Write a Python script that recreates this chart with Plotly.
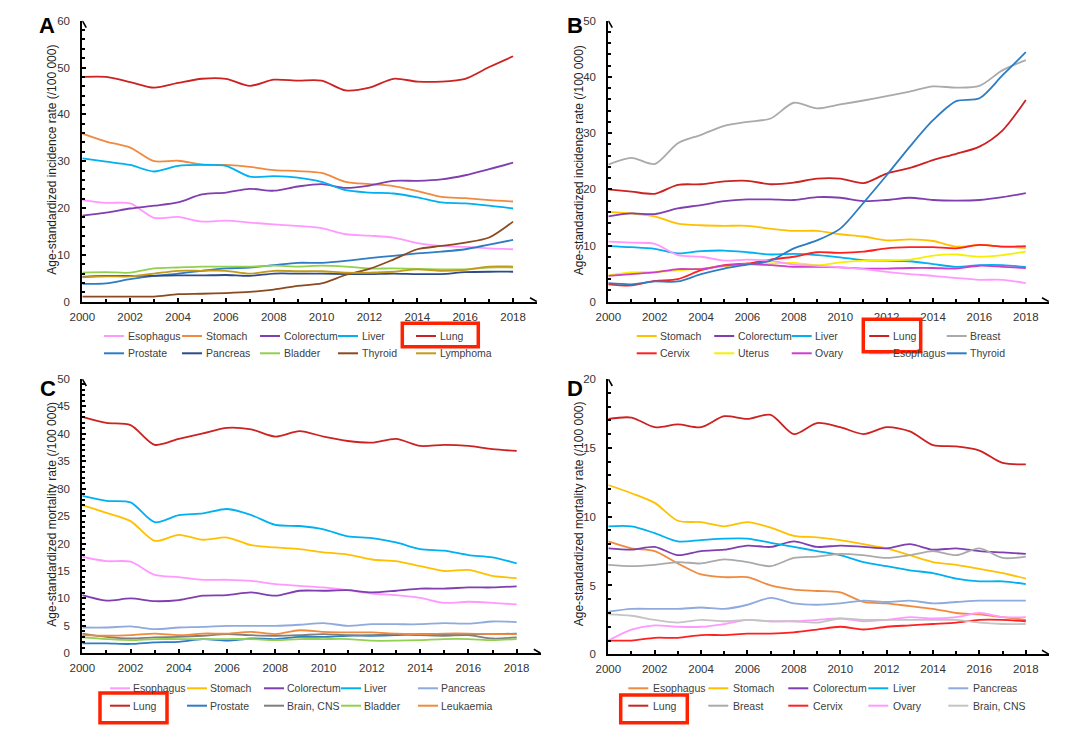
import plotly.graph_objects as go

W, H = 1084, 733
YEARS = list(range(2000, 2019))
TICK_YEARS = list(range(2000, 2019, 2))

# ---------------- Panel A : incidence ----------------
a_names = ["Esophagus", "Stomach", "Colorectum", "Liver", "Lung",
           "Prostate", "Pancreas", "Bladder", "Thyroid", "Lymphoma"]
a_esophagus = [21.7, 21.1, 21.0, 17.9, 18.1, 17.1, 17.3, 16.9, 16.5, 16.2, 15.7, 14.4, 14.1, 13.7, 12.5, 11.9, 11.7, 11.4, 11.2]
a_stomach = [35.9, 34.2, 32.9, 30.0, 30.1, 29.3, 29.2, 28.8, 28.1, 27.9, 27.5, 25.6, 25.1, 24.7, 23.6, 22.4, 22.1, 21.7, 21.4]
a_colorectum = [18.4, 19.0, 19.9, 20.5, 21.2, 22.9, 23.3, 24.1, 23.7, 24.6, 25.1, 24.3, 24.8, 25.8, 25.8, 26.1, 27.0, 28.3, 29.7]
a_liver = [30.6, 29.9, 29.2, 27.8, 29.0, 29.2, 29.0, 26.7, 26.8, 26.5, 25.6, 23.8, 23.3, 23.1, 22.3, 21.2, 21.0, 20.5, 19.9]
a_lung = [48.0, 48.0, 46.9, 45.7, 46.7, 47.6, 47.6, 46.1, 47.4, 47.2, 47.2, 45.1, 45.7, 47.6, 47.0, 47.0, 47.6, 50.1, 52.4]
a_prostate = [3.8, 3.9, 4.8, 5.5, 6.0, 6.6, 7.1, 7.3, 7.8, 8.3, 8.3, 8.7, 9.3, 9.8, 10.3, 10.7, 11.2, 12.2, 13.2]
a_pancreas = [5.3, 5.5, 5.5, 5.5, 5.6, 5.6, 5.7, 5.5, 6.0, 6.0, 6.0, 5.9, 5.9, 6.0, 5.9, 5.9, 6.3, 6.4, 6.4]
a_bladder = [6.2, 6.3, 6.2, 7.1, 7.3, 7.5, 7.5, 7.5, 7.7, 7.5, 7.7, 7.5, 7.1, 7.1, 7.0, 6.9, 6.9, 7.3, 7.3]
a_thyroid = [1.1, 1.1, 1.1, 1.1, 1.6, 1.7, 1.85, 2.1, 2.6, 3.4, 3.9, 5.7, 7.0, 9.0, 11.2, 11.9, 12.6, 13.7, 17.1]
a_lymphoma = [5.2, 5.4, 5.4, 6.0, 6.6, 6.6, 6.6, 6.0, 6.6, 6.5, 6.5, 6.2, 6.2, 6.4, 6.9, 6.6, 6.8, 7.5, 7.5]
a_colors = ["#FF99FF", "#F08A3E", "#7F3FB0", "#00B0F0", "#CC2222",
            "#2E7CC4", "#2F4A8A", "#92D050", "#8B4A1F", "#C49A1A"]

# ---------------- Panel B : incidence ----------------
b_names = ["Stomach", "Colorectum", "Liver", "Lung", "Breast",
           "Cervix", "Uterus", "Ovary", "Esophagus", "Thyroid"]
b_stomach = [16.0, 15.7, 15.2, 13.9, 13.6, 13.5, 13.5, 13.0, 12.6, 12.6, 12.0, 11.6, 10.9, 11.1, 10.8, 9.8, 10.1, 9.8, 9.6]
b_colorectum = [15.2, 15.7, 15.6, 16.6, 17.2, 17.9, 18.2, 18.2, 18.1, 18.6, 18.5, 17.9, 18.1, 18.5, 18.1, 18.0, 18.1, 18.6, 19.3]
b_liver = [9.9, 9.7, 9.4, 8.6, 9.0, 9.1, 8.8, 8.4, 8.5, 8.3, 7.9, 7.4, 7.3, 7.2, 6.7, 6.2, 6.5, 6.5, 6.2]
b_lung = [20.0, 19.6, 19.2, 20.8, 20.9, 21.4, 21.5, 20.9, 21.2, 21.9, 21.9, 21.1, 22.8, 23.8, 25.2, 26.3, 27.6, 30.5, 35.9]
b_breast = [24.4, 25.6, 24.5, 28.2, 29.7, 31.3, 32.0, 32.6, 35.4, 34.4, 35.1, 35.8, 36.6, 37.4, 38.3, 38.1, 38.4, 41.2, 43.0]
b_cervix = [3.1, 2.9, 3.7, 4.0, 5.6, 6.5, 6.8, 7.5, 8.0, 8.8, 8.7, 8.9, 9.5, 9.7, 9.7, 9.5, 10.1, 9.8, 9.9]
b_uterus = [4.7, 5.2, 5.3, 5.6, 5.9, 6.3, 6.7, 6.8, 6.9, 6.5, 7.0, 7.3, 7.4, 7.5, 8.2, 8.4, 8.0, 8.3, 8.9]
b_ovary = [4.6, 4.9, 5.2, 5.8, 5.8, 6.4, 6.7, 6.5, 6.2, 6.2, 6.1, 5.9, 5.9, 6.0, 6.0, 5.9, 6.4, 6.2, 6.0]
b_esophagus = [10.7, 10.5, 10.3, 8.3, 8.0, 7.3, 7.5, 7.3, 6.6, 6.4, 6.1, 5.8, 5.3, 4.9, 4.6, 4.2, 3.9, 3.9, 3.3]
b_thyroid = [3.3, 3.1, 3.6, 3.6, 4.9, 5.9, 6.6, 7.3, 9.5, 10.9, 13.0, 17.6, 22.5, 27.6, 32.3, 35.7, 36.2, 40.3, 44.4]
b_colors = ["#FFC000", "#7F3FB0", "#00B0F0", "#CC2222", "#AAAAAA",
            "#FF2020", "#F5F000", "#CC3FCC", "#FF99FF", "#2E7CC4"]

# ---------------- Panel C : mortality ----------------
c_names = ["Esophagus", "Stomach", "Colorectum", "Liver", "Pancreas",
           "Lung", "Prostate", "Brain, CNS", "Bladder", "Leukaemia"]
c_esophagus = [17.6, 16.8, 16.7, 14.3, 13.9, 13.4, 13.4, 13.2, 12.6, 12.3, 12.0, 11.5, 10.9, 10.6, 10.1, 9.2, 9.4, 9.2, 8.9]
c_stomach = [27.0, 25.6, 24.1, 20.5, 21.6, 20.7, 21.1, 19.7, 19.3, 19.0, 18.4, 18.0, 17.1, 16.8, 15.9, 15.0, 15.2, 14.1, 13.7]
c_colorectum = [10.6, 9.6, 10.0, 9.5, 9.7, 10.5, 10.6, 11.1, 10.5, 11.4, 11.4, 11.5, 11.1, 11.4, 11.8, 11.8, 12.0, 12.0, 12.2]
c_liver = [28.7, 27.8, 27.5, 23.9, 25.2, 25.5, 26.3, 25.2, 23.4, 23.2, 22.6, 21.3, 21.0, 20.2, 19.0, 18.7, 17.9, 17.5, 16.4]
c_pancreas = [4.7, 4.7, 4.9, 4.4, 4.7, 4.8, 5.0, 5.0, 5.0, 5.2, 5.5, 5.0, 5.3, 5.3, 5.3, 5.5, 5.4, 5.8, 5.7]
c_lung = [43.1, 42.0, 41.6, 38.0, 39.1, 40.1, 41.1, 40.8, 39.5, 40.5, 39.5, 38.7, 38.4, 39.1, 37.8, 38.0, 37.8, 37.2, 36.9]
c_prostate = [1.8, 1.8, 1.7, 2.0, 2.1, 2.6, 2.3, 2.7, 2.6, 3.0, 3.0, 3.2, 3.2, 3.3, 3.5, 3.5, 3.5, 3.5, 3.6]
c_brain = [3.6, 3.0, 2.7, 2.9, 3.0, 3.2, 3.5, 3.3, 3.2, 3.3, 3.5, 3.3, 3.3, 3.5, 3.3, 3.2, 3.3, 2.7, 2.9]
c_bladder = [2.9, 2.6, 2.4, 2.6, 2.6, 2.6, 2.6, 2.6, 2.4, 2.6, 2.6, 2.6, 2.3, 2.3, 2.4, 2.6, 2.6, 2.4, 2.6]
c_leukaemia = [3.3, 3.2, 3.3, 3.6, 3.3, 3.6, 3.6, 3.9, 3.5, 4.2, 3.9, 3.8, 3.8, 3.6, 3.5, 3.6, 3.6, 3.5, 3.5]
c_colors = ["#FF99FF", "#FFC000", "#7F3FB0", "#00B0F0", "#8FAADC",
            "#CC2222", "#2E7CC4", "#7F7F7F", "#92D050", "#F08A3E"]

# ---------------- Panel D : mortality ----------------
d_names = ["Esophagus", "Stomach", "Colorectum", "Liver", "Pancreas",
           "Lung", "Breast", "Cervix", "Ovary", "Brain, CNS"]
d_esophagus = [8.2, 7.7, 7.5, 6.6, 5.8, 5.6, 5.6, 5.0, 4.7, 4.6, 4.5, 3.8, 3.7, 3.5, 3.3, 3.0, 2.9, 2.7, 2.5]
d_stomach = [12.3, 11.7, 11.0, 9.7, 9.6, 9.3, 9.6, 9.2, 8.6, 8.5, 8.3, 8.0, 7.7, 7.2, 6.7, 6.5, 6.2, 5.9, 5.5]
d_colorectum = [7.7, 7.6, 7.8, 7.2, 7.5, 7.6, 7.9, 7.8, 8.2, 7.8, 7.9, 7.8, 7.7, 8.0, 7.6, 7.7, 7.5, 7.4, 7.3]
d_liver = [9.3, 9.3, 8.8, 8.2, 8.3, 8.4, 8.4, 8.1, 7.8, 7.5, 7.2, 6.7, 6.4, 6.1, 5.9, 5.5, 5.3, 5.3, 5.1]
d_pancreas = [3.1, 3.3, 3.3, 3.3, 3.4, 3.3, 3.6, 4.1, 3.7, 3.6, 3.7, 3.9, 3.8, 3.9, 3.7, 3.8, 3.9, 3.9, 3.9]
d_lung = [17.1, 17.2, 16.5, 16.7, 16.5, 17.3, 17.1, 17.4, 16.0, 16.8, 16.5, 16.0, 16.5, 16.2, 15.2, 15.1, 14.8, 13.9, 13.8]
d_breast = [6.5, 6.4, 6.5, 6.7, 6.6, 6.9, 6.7, 6.4, 7.0, 7.1, 7.3, 7.2, 7.0, 7.2, 7.5, 7.2, 7.7, 7.0, 7.1]
d_cervix = [1.0, 1.0, 1.2, 1.2, 1.4, 1.4, 1.5, 1.5, 1.6, 1.8, 2.0, 1.8, 2.0, 2.1, 2.2, 2.3, 2.5, 2.5, 2.4]
d_ovary = [1.0, 1.8, 2.1, 2.0, 2.0, 2.2, 2.5, 2.4, 2.4, 2.5, 2.6, 2.4, 2.5, 2.7, 2.6, 2.7, 3.0, 2.7, 2.7]
d_brain = [2.9, 2.8, 2.5, 2.3, 2.5, 2.4, 2.5, 2.4, 2.4, 2.3, 2.6, 2.5, 2.5, 2.5, 2.5, 2.5, 2.3, 2.2, 2.2]
d_colors = ["#F08A3E", "#FFC000", "#7F3FB0", "#00B0F0", "#8FAADC",
            "#CC2222", "#AAAAAA", "#FF2020", "#FF99FF", "#C4C4C4"]

INC_TITLE = "Age-standardized incidence rate (/100 000)"
MORT_TITLE = "Age-standardized mortality rate (/100 000)"

PANELS = [
    dict(letter="A", names=a_names, colors=a_colors,
         series=[a_esophagus, a_stomach, a_colorectum, a_liver, a_lung,
                 a_prostate, a_pancreas, a_bladder, a_thyroid, a_lymphoma],
         ymax=60, ymajor=10, yminor=2, title=INC_TITLE, title_pos=(51.7, 160.0),
         xpx=(82.3, 537.0), ypx=(301.7, 20.7),
         leg_x0=104.0, leg_dx=78.0, leg_tx=22.0, leg_rows=(336.0, 353.3),
         box=(402.3, 323.3, 478.3, 346.7), lab=(46.7, 25.8)),
    dict(letter="B", names=b_names, colors=b_colors,
         series=[b_stomach, b_colorectum, b_liver, b_lung, b_breast,
                 b_cervix, b_uterus, b_ovary, b_esophagus, b_thyroid],
         ymax=50, ymajor=10, yminor=2, title=INC_TITLE, title_pos=(579.3, 160.0),
         xpx=(608.3, 1049.0), ypx=(301.7, 20.7),
         leg_x0=636.7, leg_dx=77.5, leg_tx=21.5, leg_rows=(336.0, 353.3),
         box=(863.3, 319.3, 920.7, 351.7), lab=(575.0, 25.8)),
    dict(letter="C", names=c_names, colors=c_colors,
         series=[c_esophagus, c_stomach, c_colorectum, c_liver, c_pancreas,
                 c_lung, c_prostate, c_brain, c_bladder, c_leukaemia],
         ymax=50, ymajor=5, yminor=1, title=MORT_TITLE, title_pos=(51.7, 514.0),
         xpx=(82.3, 540.8), ypx=(653.3, 379.0),
         leg_x0=110.0, leg_dx=77.0, leg_tx=20.5, leg_rows=(688.3, 705.7),
         box=(100.0, 693.0, 167.0, 722.7), lab=(47.5, 388.0)),
    dict(letter="D", names=d_names, colors=d_colors,
         series=[d_esophagus, d_stomach, d_colorectum, d_liver, d_pancreas,
                 d_lung, d_breast, d_cervix, d_ovary, d_brain],
         ymax=20, ymajor=5, yminor=1, title=MORT_TITLE, title_pos=(579.3, 514.0),
         xpx=(608.3, 1049.0), ypx=(654.3, 379.0),
         leg_x0=628.3, leg_dx=80.0, leg_tx=23.0, leg_rows=(688.3, 705.7),
         box=(620.7, 695.0, 687.3, 722.7), lab=(575.0, 388.3)),
]

FONT = "Liberation Sans, Arial, sans-serif"


def fx(p):
    return p / W


def fy(p):
    return 1 - p / H


fig = go.Figure()
shapes = []
annotations = []
layout_axes = {}

for i, p in enumerate(PANELS):
    n = "" if i == 0 else str(i + 1)
    xref, yref = "x" + n, "y" + n
    for name, col, vals in zip(p["names"], p["colors"], p["series"]):
        fig.add_trace(go.Scatter(
            x=YEARS, y=vals, name=name, mode="lines", showlegend=False,
            line=dict(color=col, width=1.8, shape="spline", smoothing=0.8),
            xaxis=xref, yaxis=yref))

    layout_axes["xaxis" + n] = dict(
        domain=[fx(p["xpx"][0]), fx(p["xpx"][1])], anchor=yref, automargin=False,
        range=[2000, 2019], tickmode="array", tickvals=TICK_YEARS,
        ticktext=[str(t) for t in TICK_YEARS],
        showline=True, linecolor="black", linewidth=2,
        ticks="inside", ticklen=4, tickwidth=1.5, tickcolor="black",
        minor=dict(tickvals=YEARS, ticks="inside", ticklen=3, tickwidth=1.5, tickcolor="black"),
        showgrid=False, zeroline=False, ticklabelstandoff=3,
        tickfont=dict(family=FONT, size=11.5, color="#333333"))
    layout_axes["yaxis" + n] = dict(
        domain=[fy(p["ypx"][0]), fy(p["ypx"][1])], anchor=xref, automargin=False,
        range=[0, p["ymax"]], tickmode="linear", tick0=0, dtick=p["ymajor"],
        showline=True, linecolor="black", linewidth=2,
        ticks="inside", ticklen=4, tickwidth=1.5, tickcolor="black",
        minor=dict(dtick=p["yminor"], ticks="inside", ticklen=3, tickwidth=1.5, tickcolor="black"),
        showgrid=False, zeroline=False, ticklabelstandoff=8,
        tickfont=dict(family=FONT, size=11.5, color="#333333"))

    # y-axis title (rotated text)
    annotations.append(dict(text=p["title"], x=fx(p["title_pos"][0]), y=fy(p["title_pos"][1]),
                            xref="paper", yref="paper", showarrow=False, textangle=-90,
                            xanchor="center", yanchor="middle",
                            font=dict(family=FONT, size=12, color="#222222")))

    # arrow heads on both axes
    shapes.append(dict(type="path", xref=xref, yref=yref, xsizemode="pixel", ysizemode="pixel",
                       xanchor=2019, yanchor=0, path="M -7 4 L 0 0 L -7 -4",
                       line=dict(color="black", width=1.6)))
    shapes.append(dict(type="path", xref=xref, yref=yref, xsizemode="pixel", ysizemode="pixel",
                       xanchor=2000, yanchor=p["ymax"], path="M -4 -7 L 0 0 L 4 -7",
                       line=dict(color="black", width=1.6)))

    # panel letter
    annotations.append(dict(text="<b>%s</b>" % p["letter"], x=fx(p["lab"][0]), y=fy(p["lab"][1]),
                            xref="paper", yref="paper", showarrow=False,
                            xanchor="center", yanchor="middle",
                            font=dict(family=FONT, size=22, color="black")))

    # legend (2 rows x 5 columns)
    for k, (name, col) in enumerate(zip(p["names"], p["colors"])):
        row, c = divmod(k, 5)
        x0 = p["leg_x0"] + c * p["leg_dx"]
        yy = p["leg_rows"][row]
        shapes.append(dict(type="line", xref="paper", yref="paper",
                           x0=fx(x0), x1=fx(x0 + 20), y0=fy(yy), y1=fy(yy),
                           line=dict(color=col, width=2)))
        annotations.append(dict(text=name, x=fx(x0 + p["leg_tx"]), y=fy(yy),
                                xref="paper", yref="paper", showarrow=False,
                                xanchor="left", yanchor="middle",
                                font=dict(family=FONT, size=10.5, color="#404040")))

    # red highlight box around "Lung"
    bx0, by0, bx1, by1 = p["box"]
    shapes.append(dict(type="rect", xref="paper", yref="paper",
                       x0=fx(bx0), x1=fx(bx1), y0=fy(by1), y1=fy(by0),
                       line=dict(color="#FF2200", width=3.5)))

fig.update_layout(
    width=W, height=H, margin=dict(l=0, r=0, t=0, b=0),
    paper_bgcolor="white", plot_bgcolor="white",
    font=dict(family=FONT, size=11, color="#333333"),
    showlegend=False, shapes=shapes, annotations=annotations,
    **layout_axes)

fig.write_html("out.html")
